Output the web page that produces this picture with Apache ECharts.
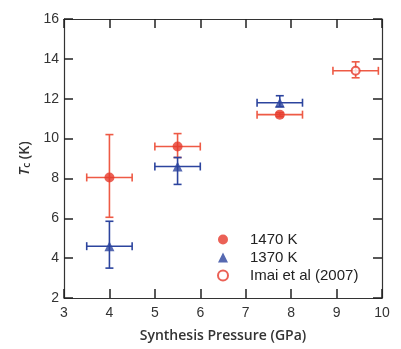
<!DOCTYPE html>
<html><head><meta charset="utf-8">
<script src="https://cdn.jsdelivr.net/npm/echarts@6/dist/echarts.min.js"></script>
<style>html,body{margin:0;padding:0;background:#fff}#c{width:401px;height:349px}</style>
</head><body><div id="c"></div>
<script>
// [pressure, Tc, xErr, yErrUp, yErrDown]
const s1470 = [[4.0, 8.05, 0.5, 2.15, 2.0], [5.5, 9.6, 0.5, 0.65, 0.55], [7.75, 11.2, 0.5, 0.1, 0.1]];
const s1370 = [[4.0, 4.6, 0.5, 1.25, 1.1], [5.5, 8.6, 0.5, 0.45, 0.9], [7.75, 11.8, 0.5, 0.35, 0.2]];
const imai = [[9.42, 13.4, 0.5, 0.45, 0.35]];
const seriesNames = ['1470 K', '1370 K', 'Imai et al (2007)'];
const xTicks = [3, 4, 5, 6, 7, 8, 9, 10];
const yTicks = [2, 4, 6, 8, 10, 12, 14, 16];

const RED = '#e63a2c', RED_BAR = '#ee5a45', BLUE = '#2c449e';
const chart = echarts.init(document.getElementById('c'));

function errSeries(data, color) {
  return {
    type: 'custom', silent: true, z: 1,
    data: data,
    encode: {x: 0, y: 0},
    renderItem: function (params, api) {
      const x = api.value(0), y = api.value(1), ex = api.value(2), eu = api.value(3), ed = api.value(4);
      const l = api.coord([x - ex, y]), r = api.coord([x + ex, y]);
      const t = api.coord([x, y + eu]), b = api.coord([x, y - ed]);
      const c = 4;
      const st = {stroke: color, lineWidth: 1.6, fill: null};
      return {type: 'group', children: [
        {type: 'line', shape: {x1: l[0], y1: l[1], x2: r[0], y2: r[1]}, style: st},
        {type: 'line', shape: {x1: l[0], y1: l[1] - c, x2: l[0], y2: l[1] + c}, style: st},
        {type: 'line', shape: {x1: r[0], y1: r[1] - c, x2: r[0], y2: r[1] + c}, style: st},
        {type: 'line', shape: {x1: t[0], y1: t[1], x2: b[0], y2: b[1]}, style: st},
        {type: 'line', shape: {x1: t[0] - c, y1: t[1], x2: t[0] + c, y2: t[1]}, style: st},
        {type: 'line', shape: {x1: b[0] - c, y1: b[1], x2: b[0] + c, y2: b[1]}, style: st}
      ]};
    }
  };
}

const axisLine = {show: true, lineStyle: {color: '#333', width: 1.2}};
const tick = {show: true, inside: true, length: 9, lineStyle: {color: '#222', width: 1.5}};
const lbl = {color: '#333', fontSize: 14, fontFamily: 'Liberation Sans'};

chart.setOption({
  animation: false,
  backgroundColor: '#fff',
  grid: {left: 64, right: 19, top: 19, bottom: 51},
  legend: {
    orient: 'vertical', left: 212, top: 227, itemGap: 3, itemWidth: 10, itemHeight: 10,
    data: [
      {name: seriesNames[0], icon: 'circle'},
      {name: seriesNames[1], icon: 'triangle'},
      {name: seriesNames[2], icon: 'emptyCircle'}
    ],
    textStyle: {fontSize: 15, color: '#222', fontFamily: 'Liberation Sans', padding: [0, 0, 0, 17]}
  },
  xAxis: [
    {type: 'value', min: xTicks[0], max: xTicks[xTicks.length - 1], interval: 1, position: 'bottom',
     axisLine: axisLine, axisTick: tick, splitLine: {show: false},
     axisLabel: Object.assign({margin: 8, formatter: v => xTicks.includes(v) ? String(v) : ''}, lbl),
     name: 'Synthesis Pressure (GPa)', nameLocation: 'middle', nameGap: 31,
     nameTextStyle: {fontSize: 14, fontWeight: 600, color: '#333', fontFamily: 'Open Sans'}},
    {type: 'value', min: xTicks[0], max: xTicks[xTicks.length - 1], interval: 1, position: 'top',
     axisLine: axisLine, axisTick: tick, axisLabel: {show: false}, splitLine: {show: false}}
  ],
  yAxis: [
    {type: 'value', min: yTicks[0], max: yTicks[yTicks.length - 1], interval: 2, position: 'left',
     axisLine: axisLine, axisTick: tick, splitLine: {show: false},
     axisLabel: Object.assign({margin: 5, formatter: v => yTicks.includes(v) ? String(v) : ''}, lbl),
     name: '{t|T}{s|c}{n| (K)}', nameLocation: 'middle', nameGap: 30, nameRotate: 90,
     nameTextStyle: {color: '#333', fontFamily: 'Open Sans', fontWeight: 600, rich: {
       t: {fontSize: 15, fontStyle: 'italic', fontWeight: 600, fontFamily: 'Open Sans', color: '#333'},
       s: {fontSize: 10, fontWeight: 600, fontFamily: 'Open Sans', color: '#333', verticalAlign: 'bottom', padding: [6, 0, 0, 0]},
       n: {fontSize: 14, fontWeight: 600, fontFamily: 'Open Sans', color: '#333'}
     }}},
    {type: 'value', min: yTicks[0], max: yTicks[yTicks.length - 1], interval: 2, position: 'right',
     axisLine: axisLine, axisTick: tick, axisLabel: {show: false}, splitLine: {show: false}}
  ],
  series: [
    errSeries(s1470, RED_BAR),
    errSeries(s1370, BLUE),
    errSeries(imai, RED_BAR),
    {name: seriesNames[0], type: 'scatter', symbol: 'circle', symbolSize: 10, z: 3,
     itemStyle: {color: RED}, data: s1470.map(d => [d[0], d[1]])},
    {name: seriesNames[1], type: 'scatter', symbol: 'triangle', symbolSize: 10, z: 3,
     itemStyle: {color: BLUE}, data: s1370.map(d => [d[0], d[1]])},
    {name: seriesNames[2], type: 'scatter', symbol: 'emptyCircle', symbolSize: 8, z: 3,
     itemStyle: {color: RED, borderColor: RED, borderWidth: 1.5}, data: imai.map(d => [d[0], d[1]])}
  ]
});
</script></body></html>
